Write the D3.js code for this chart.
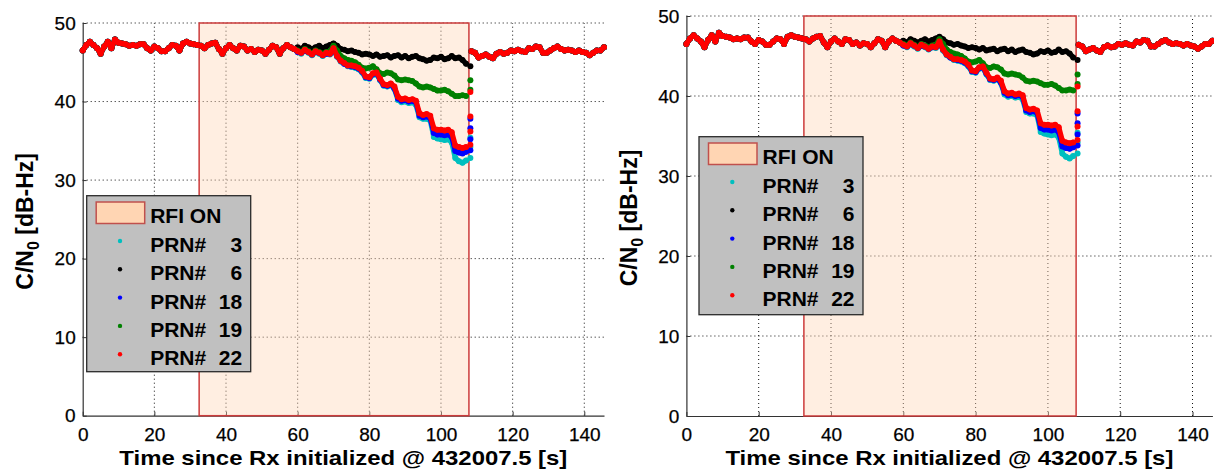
<!DOCTYPE html>
<html><head><meta charset="utf-8">
<script src="https://cdn.jsdelivr.net/npm/d3@7"></script>
<style>
body{margin:0;background:#fff}
svg{display:block}
text{font-family:"Liberation Sans",Arial,Helvetica,sans-serif}
</style>
</head><body>
<svg id="c" width="1214" height="472"></svg>
<script>
// ---------- data ----------
const xTicks = [0, 20, 40, 60, 80, 100, 120, 140];
const yTicks = [0, 10, 20, 30, 40, 50];
const xDomain = [0, 145.5];
const yDomain = [0, 50];
const rfiWindow = [32.5, 107.8];
const xTitle = "Time since Rx initialized @ 432007.5 [s]";
const prnLabels = ["3", "6", "18", "19", "22"];
const prnColors = ["#00bfbf", "#000000", "#0000ff", "#008000", "#ff0000"];

// shared (all PRNs overlap) t = 0..59 s, 1 s step
const beforeStart = 0;
const sharedBefore = [
  46.5,47.2,47.6,47.2,46.8,46.1,47.0,47.6,46.8,47.9,
  47.5,47.4,47.3,47.1,47.2,47.1,47.3,47.3,46.8,46.5,
  47.0,46.8,46.4,46.4,46.8,47.2,47.1,46.5,47.4,47.6,
  47.4,47.3,47.2,47.1,46.8,47.2,47.4,47.5,46.7,46.1,
  46.8,47.2,46.8,46.5,47.1,47.0,46.5,46.7,46.3,46.6,
  46.5,46.1,46.6,47.1,46.9,46.1,46.8,47.2,46.9,46.7];

// per-PRN values t = 60..107 s, 1 s step
const divStart = 60;
const prn3 = [
  46.3,46.1,46.5,46.2,45.9,46.3,46.1,45.8,46.1,46.0,
  46.6,45.7,45.1,44.8,44.5,44.4,44.3,44.1,43.7,43.0,
  42.9,43.4,43.5,42.7,42.0,41.9,42.1,41.6,40.2,39.9,
  40.0,39.8,39.9,39.6,38.0,37.8,37.8,37.6,35.5,35.3,
  35.2,35.1,35.2,34.8,32.8,32.4,32.2,32.5];
const prn6 = [
  46.9,46.7,47.1,46.9,46.7,46.9,47.1,46.8,47.0,47.2,
  47.4,47.1,46.7,46.6,46.4,46.5,46.3,46.2,46.0,46.1,
  46.0,45.8,46.0,45.7,45.8,45.9,45.6,45.8,45.9,45.6,
  45.8,45.5,45.7,45.8,45.5,45.4,45.2,45.3,45.6,45.5,
  45.7,45.4,45.5,45.8,45.5,45.6,45.3,44.8];
const prn18 = [
  46.3,46.2,46.5,46.3,46.0,46.3,46.2,45.9,46.1,46.1,
  46.7,45.8,45.2,44.8,44.6,44.5,44.4,44.2,43.8,43.1,
  43.0,43.5,43.6,42.8,42.1,42.0,42.2,41.7,40.4,40.1,
  40.2,40.0,40.1,39.9,38.2,38.0,38.1,37.9,36.0,35.8,
  35.8,35.7,35.8,35.5,33.7,33.5,33.4,33.6];
const prn19 = [
  46.5,46.3,46.7,46.4,46.1,46.5,46.3,46.1,46.3,46.4,
  47.1,46.5,45.8,45.5,45.3,45.2,45.0,44.7,44.3,44.2,
  44.3,44.5,44.1,43.6,43.5,43.7,43.6,43.3,42.8,42.7,
  42.8,42.7,42.6,42.3,41.9,41.8,41.9,41.8,41.6,41.4,
  41.4,41.5,41.3,41.0,40.7,40.7,40.8,40.7];
const prn22 = [
  46.4,46.2,46.6,46.3,46.0,46.4,46.2,45.9,46.2,46.1,
  46.8,45.8,45.2,44.9,44.6,44.6,44.5,44.3,43.9,43.2,
  43.1,43.6,43.7,42.9,42.2,42.1,42.3,41.9,40.6,40.3,
  40.4,40.2,40.3,40.1,38.5,38.3,38.4,38.2,36.6,36.4,
  36.4,36.3,36.4,36.1,34.4,34.2,34.1,34.2];

// recovery samples at RFI switch-off (t ~ 108.2 s)
const endTime = 108.2;
const end3 = [32.8, 34.2, 35.4];
const end6 = [44.5];
const end18 = [33.8, 35.2, 36.6, 37.8];
const end19 = [41.5, 42.7];
const end22 = [34.5, 36.2, 38.1, 41.2];

// shared after RFI off, t = 108.5..145.5 s, 1 s step
const afterStart = 108.5;
const sharedAfter = [
  46.4,46.2,45.6,45.8,46.0,45.7,45.5,46.1,46.3,46.1,
  46.2,46.5,46.4,46.6,46.4,46.3,46.8,46.7,47.0,46.9,
  46.2,46.2,46.5,46.8,47.0,46.7,46.5,46.6,46.5,46.3,
  46.5,46.3,46.2,45.9,46.2,46.5,46.5,46.9];

const divSeries = [prn3, prn6, prn18, prn19, prn22];
const endSeries = [end3, end6, end18, end19, end22];

// ---------- build ----------
const toPts = (arr, t0) => arr.map((v, i) => ({t: t0 + i, v}));
const series = prnLabels.map((lab, k) => ({
  label: lab, color: prnColors[k],
  main: toPts(sharedBefore, beforeStart).concat(toPts(divSeries[k], divStart)),
  ends: endSeries[k].map(v => ({t: endTime, v})),
  after: toPts(sharedAfter, afterStart)
}));

const svg = d3.select("#c");

const panels = [
  {x0: 82.7, x1: 604, y0: 415.7, y1: 23, lg: {x: 86.7, y: 195.7, w: 164, h: 176}, ylx: 33},
  {x0: 686.4, x1: 1212.4, y0: 416, y1: 16, lg: {x: 699, y: 136.7, w: 164, h: 178}, ylx: 637}
];

panels.forEach(p => {
  const g = svg.append("g");
  const x = d3.scaleLinear().domain(xDomain).range([p.x0, p.x1]);
  const y = d3.scaleLinear().domain(yDomain).range([p.y0, p.y1]);

  // grid
  g.append("g").selectAll("line").data(xTicks.filter(d => d > 0)).join("line")
    .attr("x1", d => x(d)).attr("x2", d => x(d)).attr("y1", y(0)).attr("y2", y(50))
    .attr("stroke", "#111").attr("stroke-width", 1).attr("stroke-dasharray", "1,3");
  g.append("g").selectAll("line").data(yTicks.filter(d => d > 0)).join("line")
    .attr("x1", x(0)).attr("x2", x(xDomain[1])).attr("y1", d => y(d)).attr("y2", d => y(d))
    .attr("stroke", "#111").attr("stroke-width", 1).attr("stroke-dasharray", "1,3");

  // axes
  const ax = g.append("g").attr("transform", `translate(0,${p.y0})`)
    .call(d3.axisBottom(x).tickValues(xTicks).tickSize(-4).tickSizeOuter(0).tickPadding(12));
  const ay = g.append("g").attr("transform", `translate(${p.x0},0)`)
    .call(d3.axisLeft(y).tickValues(yTicks).tickSize(-4).tickSizeOuter(0).tickPadding(7));
  [ax, ay].forEach(a => {
    a.select(".domain").attr("stroke", "#333").attr("stroke-width", 1.2);
    a.selectAll(".tick line").attr("stroke", "#333");
    a.selectAll("text").attr("font-size", 19).attr("fill", "#000")
      .attr("stroke", "#000").attr("stroke-width", 0.25)
      .attr("font-family", '"Liberation Sans",Arial,sans-serif');
  });

  // RFI patch
  g.append("rect")
    .attr("x", x(rfiWindow[0])).attr("y", y(50))
    .attr("width", x(rfiWindow[1]) - x(rfiWindow[0])).attr("height", y(0) - y(50))
    .attr("fill", "#ffd5b3").attr("fill-opacity", 0.4)
    .attr("stroke", "#cc3b3b").attr("stroke-width", 1.5);

  // data
  const line = d3.line().x(d => x(d.t)).y(d => y(d.v));
  series.forEach(s => {
    const sg = g.append("g");
    [s.main, s.after].forEach(seg => {
      sg.append("path").datum(seg).attr("d", line).attr("fill", "none")
        .attr("stroke", s.color).attr("stroke-width", 5.2)
        .attr("stroke-linejoin", "round").attr("stroke-linecap", "round");
    });
    sg.selectAll("circle").data(s.main.concat(s.ends, s.after)).join("circle")
      .attr("cx", d => x(d.t)).attr("cy", d => y(d.v)).attr("r", 3).attr("fill", s.color);
  });

  // titles
  g.append("text").attr("x", (p.x0 + p.x1) / 2).attr("y", 465)
    .attr("text-anchor", "middle").attr("font-weight", "bold").attr("font-size", 21)
    .attr("textLength", 448).attr("lengthAdjust", "spacingAndGlyphs").text(xTitle);

  const yl = g.append("text")
    .attr("transform", `translate(${p.ylx},${(p.y0 + p.y1) / 2 + 2}) rotate(-90)`)
    .attr("text-anchor", "middle").attr("font-weight", "bold").attr("font-size", 23);
  yl.append("tspan").text("C/N");
  yl.append("tspan").attr("font-size", 16).attr("dy", 6).text("0");
  yl.append("tspan").attr("dy", -6).text(" [dB-Hz]");

  // legend
  const L = p.lg;
  const lg = g.append("g").attr("transform", `translate(${L.x},${L.y})`);
  lg.append("rect").attr("width", L.w).attr("height", L.h)
    .attr("fill", "#c0c0c0").attr("stroke", "#2a2a2a").attr("stroke-width", 1.3);
  lg.append("rect").attr("x", 9.5).attr("y", 6.3).attr("width", 48.5).attr("height", 21.5)
    .attr("fill", "#ffd5b3").attr("stroke", "#c0504d").attr("stroke-width", 1.5);
  lg.append("text").attr("x", 63.5).attr("y", 27).attr("font-weight", "bold")
    .attr("font-size", 21).text("RFI ON");
  series.forEach((s, i) => {
    const by = 56.3 + i * 28.3;
    lg.append("circle").attr("cx", 33.3).attr("cy", by - 11).attr("r", 2.2).attr("fill", s.color);
    lg.append("text").attr("x", 63.5).attr("y", by).attr("font-weight", "bold")
      .attr("font-size", 21).text("PRN#");
    lg.append("text").attr("x", 155.5).attr("y", by).attr("font-weight", "bold")
      .attr("font-size", 21).attr("text-anchor", "end").text(s.label);
  });
});
</script>
</body></html>
